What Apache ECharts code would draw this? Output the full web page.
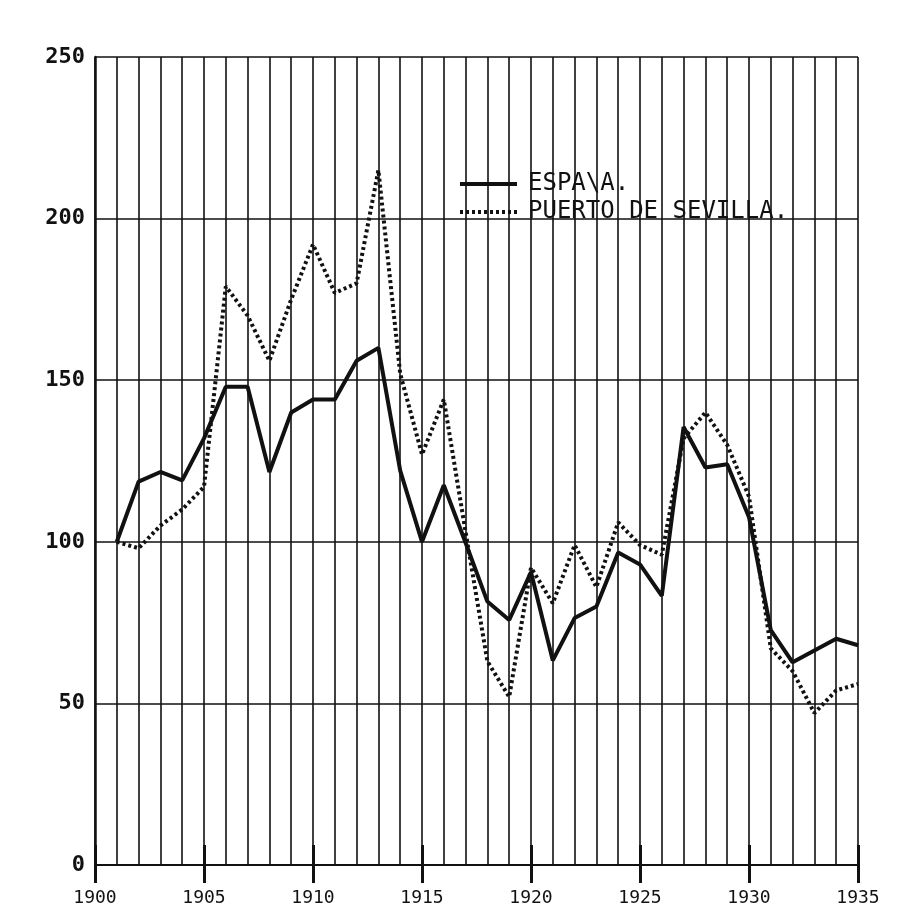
<!DOCTYPE html>
<html>
<head>
<meta charset="utf-8">
<script src="https://cdn.jsdelivr.net/npm/echarts@6/dist/echarts.min.js"></script>
<style>
  html, body { margin: 0; padding: 0; background: #fff; }
  #chart { width: 898px; height: 916px; }
</style>
</head>
<body>
<div id="chart"></div>
<script>
const years = [1901, 1902, 1903, 1904, 1905, 1906, 1907, 1908, 1909, 1910,
  1911, 1912, 1913, 1914, 1915, 1916, 1917, 1918, 1919, 1920,
  1921, 1922, 1923, 1924, 1925, 1926, 1927, 1928, 1929, 1930,
  1931, 1932, 1933, 1934, 1935];
const espana = [100, 118.6, 121.6, 119, 132, 148, 148, 121.6, 140, 144,
  144, 156, 160, 122, 100, 117.5, 99.7, 81.5, 75.8, 90.6,
  63.3, 76.4, 80, 96.7, 93, 83.3, 135.5, 123, 124, 107.6,
  72.7, 62.7, 66.4, 70, 68];
const sevilla = [100, 98, 105, 110, 117, 179, 170, 156, 175, 192,
  177, 180, 215, 152, 127, 144, 103, 63, 52, 92,
  81, 99, 86, 106, 99, 96, 132, 140, 130, 114,
  67, 60, 47, 54, 56];
const seriesNames = ['ESPA\\A.', 'PUERTO DE SEVILLA.'];

const chart = echarts.init(document.getElementById('chart'));
const ink = '#111';
const mono = '"DejaVu Sans Mono", monospace';

chart.setOption({
  backgroundColor: '#fff',
  animation: false,
  grid: { left: 95, right: 40, top: 57, bottom: 51 },
  legend: {
    left: 453,
    top: 167,
    orient: 'vertical',
    itemWidth: 57,
    itemHeight: 14,
    itemGap: 4,
    itemStyle: { opacity: 0 },
    lineStyle: { width: 4 },
    textStyle: { fontFamily: mono, fontSize: 24, color: ink, padding: [0, 0, 0, 6] },
    data: seriesNames
  },
  xAxis: [
    {
      type: 'value', min: 1900, max: 1935, interval: 1,
      axisLine: { lineStyle: { color: ink, width: 2 } },
      axisTick: { show: false },
      axisLabel: { show: false },
      splitLine: { show: true, lineStyle: { color: ink, width: 1.6 } }
    },
    {
      type: 'value', position: 'bottom', min: 1900, max: 1935, interval: 5,
      axisLine: { show: false },
      axisTick: { show: true, length: 18, lineStyle: { color: ink, width: 3 } },
      axisLabel: { margin: 24, fontFamily: mono, fontSize: 18, color: ink, formatter: v => String(v) },
      splitLine: { show: false }
    },
    {
      type: 'value', position: 'bottom', min: 1900, max: 1935, interval: 5,
      axisLine: { show: false },
      axisTick: { show: true, inside: true, length: 20, lineStyle: { color: ink, width: 3 } },
      axisLabel: { show: false },
      splitLine: { show: false }
    }
  ],
  yAxis: {
    type: 'value', min: 0, max: 250, interval: 50,
    axisLine: { show: true, lineStyle: { color: ink, width: 2.5 } },
    axisTick: { show: false },
    axisLabel: { margin: 10, fontFamily: mono, fontWeight: 'bold', fontSize: 22, color: ink },
    splitLine: { show: true, lineStyle: { color: ink, width: 1.6 } }
  },
  series: [
    {
      name: seriesNames[0],
      type: 'line',
      xAxisIndex: 0,
      symbol: 'none',
      data: years.map((y, i) => [y, espana[i]]),
      lineStyle: { color: ink, width: 4 },
      itemStyle: { color: ink },
      z: 4
    },
    {
      name: seriesNames[1],
      type: 'line',
      xAxisIndex: 0,
      symbol: 'none',
      data: years.map((y, i) => [y, sevilla[i]]),
      lineStyle: { color: ink, width: 4, type: [3, 3] },
      itemStyle: { color: ink },
      z: 3
    }
  ]
});
</script>
</body>
</html>
